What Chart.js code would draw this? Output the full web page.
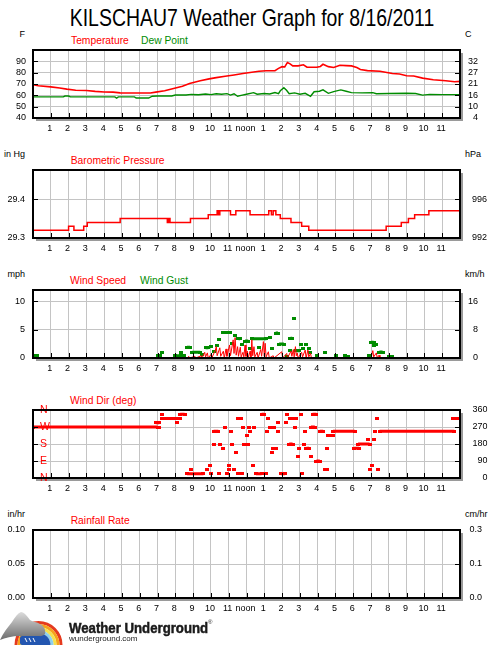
<!DOCTYPE html>
<html><head><meta charset="utf-8">
<script src="https://cdn.jsdelivr.net/npm/chart.js@4.4.0/dist/chart.umd.min.js"></script>
<style>
html,body{margin:0;padding:0;background:#fff;}
#page{position:relative;width:500px;height:645px;overflow:hidden;background:#fff;font-family:'Liberation Sans',Arial,sans-serif;}
.t{position:absolute;white-space:nowrap;line-height:1;}
.unit{font-size:9px;color:#000;}
.ul{right:475px;text-align:right;}
.ur{left:465px;}
.lg{font-size:10.3px;}
.red{color:#ff0000;}
.grn{color:#008c00;}
canvas{position:absolute;left:0;}
</style></head><body><div id="page">
<div class="t" style="left:2px;top:6.4px;width:500px;text-align:center;font-size:24px;transform:scaleX(0.81);transform-origin:50% 50%;color:#000;">KILSCHAU7 Weather Graph for 8/16/2011</div>

<div class="t unit ul" style="top:30.4px">F</div>
<div class="t unit ur" style="top:30.4px">C</div>
<div class="t lg red" style="left:71px;top:36.3px">Temperature</div>
<div class="t lg grn" style="left:141px;top:36.3px">Dew Point</div>

<div class="t unit ul" style="top:150.4px">in Hg</div>
<div class="t unit ur" style="top:150.4px">hPa</div>
<div class="t lg red" style="left:70.7px;top:156.3px">Barometric Pressure</div>

<div class="t unit ul" style="top:270.4px">mph</div>
<div class="t unit ur" style="top:270.4px">km/h</div>
<div class="t lg red" style="left:70px;top:276.3px">Wind Speed</div>
<div class="t lg grn" style="left:140px;top:276.3px">Wind Gust</div>

<div class="t lg red" style="left:70px;top:396.3px">Wind Dir (deg)</div>

<div class="t unit ul" style="top:510.4px">in/hr</div>
<div class="t unit ur" style="top:510.4px">cm/hr</div>
<div class="t lg red" style="left:70.7px;top:516.3px">Rainfall Rate</div>

<canvas id="c1" width="500" height="104" style="top:36px"></canvas>
<canvas id="c2" width="500" height="104" style="top:156px"></canvas>
<canvas id="c3" width="500" height="104" style="top:276px"></canvas>
<canvas id="c4" width="500" height="104" style="top:396px"></canvas>
<canvas id="c5" width="500" height="104" style="top:516px"></canvas>

<svg style="position:absolute;left:0;top:605px" width="66" height="40" viewBox="0 0 66 40">
<defs><linearGradient id="cg" x1="0" y1="0" x2="0" y2="1"><stop offset="0" stop-color="#dcdcdc"/><stop offset="1" stop-color="#6c6c6c"/></linearGradient></defs>
<circle cx="38.5" cy="40" r="22.5" fill="none" stroke="#e53a1e" stroke-width="3"/>
<circle cx="38.5" cy="40" r="19.5" fill="none" stroke="#f6a21c" stroke-width="3"/>
<circle cx="38.5" cy="40" r="16.5" fill="none" stroke="#f5e04c" stroke-width="3"/>
<circle cx="38.5" cy="40" r="13.5" fill="none" stroke="#8fd0ec" stroke-width="3"/>
<circle cx="38.5" cy="40" r="12" fill="#2356b0"/>
<path d="M0,35 C3,28 8,22 12,17 C15,12 18,8 21,7 C24,7 27,11 30,15 C33,17 37,17 40,19 C44,21 46,25 45,29 C42,32 36,32 30,31 L20,31 C12,31 5,33 0,35 Z" fill="url(#cg)"/>
<rect x="20" y="31" width="21" height="9" rx="2" fill="#2356b0"/>
<path d="M25,33 l2,4 M29,33 l2,4 M33,33 l2,4" stroke="#fff" stroke-width="1"/>
</svg>
<div class="t" style="left:69px;top:620px;font-size:15px;font-weight:bold;color:#1a1a1a;-webkit-text-stroke:0.5px #1a1a1a;transform:scaleX(0.88);transform-origin:0 50%;">Weather Underground</div>
<div class="t" style="left:208px;top:619px;font-size:6px;color:#1a1a1a;">®</div>
<div class="t" style="left:69px;top:635.2px;font-size:8px;color:#222;">wunderground.com</div>
</div>
<script>
// ---------- data ----------
const xTickHours = [1,2,3,4,5,6,7,8,9,10,11,12,13,14,15,16,17,18,19,20,21,22,23];
const xTickLabels = ['1','2','3','4','5','6','7','8','9','10','11','noon','1','2','3','4','5','6','7','8','9','10','11'];

const tempTicksF = [40,50,60,70,80,90];
const tempLabelsF = ['40','50','60','70','80','90'];
const tempLabelsC = ['4','10','16','21','27','32'];
const tempHours = [0,0.3,1.0,1.5,1.9,2.4,3.0,3.5,4.0,4.5,4.9,5.7,6.6,6.9,7.4,7.9,8.4,8.8,9.4,9.9,10.3,10.8,11.3,11.8,12.2,12.7,13.1,13.6,13.8,14.0,14.15,14.3,14.45,14.6,14.9,15.2,15.4,15.95,16.15,16.3,16.6,16.9,17.25,17.6,17.9,18.2,18.4,18.8,19.5,20.2,20.6,21.0,21.4,21.9,22.5,23.2,23.7,24.0];
const tempF = [69.5,68.5,67.5,66.5,65.5,64.5,64.2,63.5,63.0,62.8,62.2,62.0,62.0,62.8,64.0,66.0,68.0,70.5,72.8,74.5,75.6,76.8,78.0,79.2,80.2,81.2,81.7,81.8,83.8,85.3,85.0,89.0,87.8,86.0,86.0,87.0,84.8,84.8,85.5,87.4,85.3,84.6,86.5,86.2,86.0,84.5,82.8,81.8,81.2,79.2,78.8,77.3,77.0,75.2,73.8,72.8,72.0,72.3];
const dewHours = [0,1.7,1.8,2.0,2.1,4.6,4.7,4.8,5.7,5.8,6.5,6.7,7.0,7.8,8.0,8.6,8.9,9.3,9.7,10.0,10.3,10.6,10.9,11.1,11.3,11.5,11.7,12.0,12.4,12.6,13.0,13.3,13.6,13.8,13.9,14.1,14.25,14.4,14.7,15.0,15.3,15.6,15.8,16.1,16.3,16.6,16.9,17.3,17.6,17.9,18.5,19.1,19.3,20.0,21.0,21.5,21.9,22.3,23.0,24.0];
const dewF = [58.6,58.6,59.4,59.4,58.6,58.6,57.5,58.6,58.6,57.6,57.6,59.2,59.4,59.4,60.3,60.3,60.8,60.5,61.2,60.6,61.4,61.0,61.5,60.2,61.4,59.2,60.0,61.0,62.4,61.0,61.6,61.2,62.5,61.5,64.0,66.8,64.5,61.5,62.2,61.0,61.8,59.2,63.2,63.6,64.8,61.8,63.3,64.8,63.6,62.4,62.2,62.4,61.4,61.6,61.8,61.6,60.2,60.8,60.6,60.6];

const pressTicks = [29.3,29.4];
const pressLabelsIn = ['29.3','29.4'];
const pressLabelsHpa = ['992','996'];
const pressHours = [0,2.0,2.3,2.85,3.05,4.9,7.55,7.62,7.7,8.85,9.85,10.35,10.42,10.5,11.1,11.4,12.2,13.25,13.4,13.5,13.65,13.9,14.5,15.1,15.5,19.85,20.7,21.1,21.45,22.25,24];
const pressInHg = [29.32,29.33,29.32,29.33,29.34,29.35,29.34,29.35,29.34,29.35,29.36,29.37,29.36,29.37,29.36,29.37,29.36,29.37,29.36,29.37,29.36,29.35,29.34,29.33,29.32,29.33,29.34,29.35,29.36,29.37,29.37];

const windTicks = [0,5,10];
const windLabelsMph = ['0','5','10'];
const windLabelsKmh = ['0','8','16'];
const windHours = [0,8.7,8.75,8.8,9.1,9.15,9.45,9.5,9.65,9.7,9.8,9.85,10.0,10.05,10.25,10.3,10.35,10.5,10.55,10.7,10.75,10.85,10.9,11.05,11.1,11.25,11.3,11.36,11.42,11.5,11.55,11.65,11.7,11.8,11.85,11.92,11.97,12.05,12.1,12.2,12.25,12.3,12.35,12.42,12.47,12.6,12.65,12.8,12.85,12.95,13.0,13.05,13.1,13.23,13.28,13.5,13.55,13.98,14.03,14.26,14.3,14.5,14.55,14.63,14.68,14.75,14.8,14.85,14.9,15.1,15.15,15.3,15.35,15.45,15.5,15.6,15.65,19.0,19.1,19.15,19.3,19.35,19.45,19.5,24];
const windMph = [0,0,0.3,0,0.3,0,0.4,0,1.0,0.2,0.9,0,0.6,0,1.4,2.0,0.4,1.8,0.3,1.2,0,1.6,0.3,2.3,0.4,3.2,0.8,3.6,0.5,2.0,0.3,1.9,0.2,1.0,0.2,2.3,0.3,1.2,0,1.2,0.2,3.2,0.4,2.0,0.2,1.0,0,1.5,0.3,2.9,0.3,2.6,0.2,1.1,0,0.4,0,1.1,0,0.8,0,1.2,0.3,1.5,0.2,2.0,0.4,0.9,0,1.0,0.2,1.4,0,1.4,0.2,0.8,0,0,1.3,0.2,0.9,0,0.5,0,0];
const gustRunStart = [0.0,7.0,8.0,8.65,8.95,9.7,10.7,11.55,11.92,12.29,13.64,13.83,14.47,14.8,19.0,19.47,20.0];
const gustRunEnd = [0.2,7.15,8.3,8.83,9.4,9.86,11.1,11.64,12.1,13.12,13.77,14.1,14.57,14.95,19.15,19.65,20.2];
const gustRunMph = [0.4,0.4,0.4,1.9,1.0,1.8,4.5,3.4,3.0,3.4,4.4,2.45,3.5,1.3,2.8,1.05,0.25];
const gustHours = [7.25,8.33,8.46,9.5,10.0,10.15,10.33,10.48,11.17,11.36,11.73,12.2,12.71,13.3,13.45,14.28,14.45,14.66,15.08,15.2,15.33,15.5,15.55,15.97,16.43,17.05,17.55,17.7,18.86,19.17,19.3];
const gustMph = [0.9,0.9,0.4,0.7,2.0,1.15,2.15,3.3,2.6,3.9,2.45,1.75,1.9,3.7,1.75,0.25,1.3,6.9,2.45,1.75,2.45,1.75,1.05,0.4,0.9,0.4,0.4,0.25,0.4,2.15,2.45];

const dirTicks = [0,90,180,270,360];
const dirLabelsCompass = ['N','E','S','W','N'];
const dirLabelsDeg = ['0','90','180','270','360'];
const dirRunStart = [0.0,6.9,7.25,8.27,8.65,10.15,11.5,12.53,12.85,13.93,14.4,14.44,15.37,15.62,15.71,15.93,16.12,16.4,16.59,16.86,18.04,18.27,19.48,23.6];
const dirRunEnd = [7.0,7.1,8.27,8.52,9.58,10.42,11.67,12.85,13.0,14.16,14.59,14.81,15.52,15.84,15.93,16.12,16.31,16.53,16.86,18.08,18.32,18.92,23.68,24.0];
const dirRunDeg = [270,292.5,315,337.5,22.5,247.5,315,22.5,337.5,22.5,180,315,157.5,270,337.5,90,247.5,45,225,247.5,157.5,180,247.5,315];
const dirHours = [7.1,7.25,8.09,8.9,9.8,9.96,10.0,10.15,10.48,10.5,10.7,10.8,10.9,11.0,11.04,11.13,11.2,11.32,11.4,11.5,11.73,11.82,11.88,12.03,12.1,12.16,12.2,12.38,12.42,13.07,13.13,13.22,13.32,13.41,13.47,13.56,13.65,13.75,13.78,14.21,14.29,14.72,14.9,14.96,15.05,15.13,15.22,15.28,15.6,16.55,18.83,18.96,19.05,19.14,19.2,19.33,19.39];
const dirDeg = [270,337.5,292.5,45,45,67.5,22.5,180,22.5,180,157.5,270,22.5,45,67.5,247.5,180,45,135,22.5,22.5,270,180,225,180,270,247.5,67.5,270,22.5,247.5,315,270,135,157.5,270,157.5,247.5,292.5,292.5,337.5,270,112.5,157.5,337.5,22.5,180,247.5,112.5,157.5,202.5,45,67.5,202.5,247.5,315,45];

const rainTicks = [0,0.05,0.1];
const rainLabelsIn = ['0.00','0.05','0.10'];
const rainLabelsCm = ['0.0','0.1','0.3'];
const rainHours = [0,24];
const rainInHr = [0,0];

// ---------- helpers ----------
const FONT = "'Liberation Sans', Arial, sans-serif";
const tickFont = {family: FONT, size: 9};
const GRID = '#c4c4c4';
const RED = '#ff0000', GREEN = '#008c00';

function rectMark(color) {
  const c = document.createElement('canvas'); c.width = 4; c.height = 3;
  const g = c.getContext('2d'); g.fillStyle = color; g.fillRect(0, 0, 4, 3); return c;
}
const redMark = rectMark(RED), greenMark = rectMark(GREEN);
function xy(xs, ys) { return xs.map((x, i) => ({x: x, y: ys[i]})); }
function runs(s, e, v) {
  const out = [];
  s.forEach((st, i) => { out.push({x: st, y: v[i]}, {x: e[i], y: v[i]}, {x: e[i], y: null}); });
  return out;
}

const framePlugin = {
  id: 'frame',
  beforeDraw(chart) {
    const {ctx, chartArea: a} = chart;
    ctx.save();
    ctx.fillStyle = '#9a9a9a';
    ctx.fillRect(a.left + 3, a.top + 3, a.right - a.left, a.bottom - a.top);
    ctx.fillStyle = '#fff';
    ctx.fillRect(a.left, a.top, a.right - a.left, a.bottom - a.top);
    ctx.restore();
  },
  afterDraw(chart) {
    const {ctx, chartArea: a, scales} = chart;
    ctx.save();
    ctx.strokeStyle = '#000'; ctx.lineWidth = 1;
    ctx.beginPath();
    scales.y.ticks.forEach(t => {
      const y = Math.round(scales.y.getPixelForValue(t.value)) + 0.5;
      ctx.moveTo(a.left, y); ctx.lineTo(a.left + 5, y);
      ctx.moveTo(a.right - 5, y); ctx.lineTo(a.right, y);
    });
    scales.x.ticks.forEach(t => {
      const x = Math.round(scales.x.getPixelForValue(t.value)) + 0.5;
      ctx.moveTo(x, a.bottom); ctx.lineTo(x, a.bottom - 5);
    });
    ctx.stroke();
    ctx.lineWidth = 2;
    ctx.strokeRect(a.left, a.top, a.right - a.left, a.bottom - a.top);
    ctx.restore();
  }
};

function panel(id, spec, datasets) {
  return new Chart(document.getElementById(id), {
    type: 'line',
    data: {datasets: datasets},
    options: {
      responsive: false, animation: false, events: [], devicePixelRatio: 1,
      layout: {padding: {top: 14, right: spec.padRight, bottom: 0, left: 0}},
      plugins: {legend: {display: false}, tooltip: {enabled: false}},
      elements: {line: {tension: 0}},
      scales: {
        x: {
          type: 'linear', min: 0, max: 24,
          afterBuildTicks: s => { s.ticks = xTickHours.map(v => ({value: v})); },
          afterFit: s => { s.height = 22; },
          ticks: {autoSkip: false, maxRotation: 0, padding: 5, labelOffset: -1, font: tickFont, color: '#000',
                  callback: (v, i) => xTickLabels[i]},
          grid: {color: GRID, lineWidth: 1, drawTicks: false},
          border: {display: false}
        },
        y: {
          position: 'left', min: spec.min, max: spec.max,
          afterBuildTicks: s => { s.ticks = spec.ticks.map(v => ({value: v})); },
          afterFit: s => { s.width = 33; },
          ticks: {autoSkip: false, padding: spec.leftPad, mirror: !!spec.mirror, font: spec.leftFont || tickFont,
                  color: spec.leftColor || '#000', callback: (v, i) => spec.leftLabels[i]},
          grid: {color: GRID, lineWidth: 1, drawTicks: false},
          border: {display: false}
        },
        y2: {
          position: 'right', min: spec.min, max: spec.max,
          afterBuildTicks: s => { s.ticks = spec.ticks.map(v => ({value: v})); },
          afterFit: s => { s.width = 40 - spec.padRight; },
          ticks: {autoSkip: false, crossAlign: 'far', padding: 0, font: tickFont, color: '#000',
                  callback: (v, i) => spec.rightLabels[i]},
          grid: {display: false, drawTicks: false},
          border: {display: false}
        }
      }
    },
    plugins: [framePlugin]
  });
}

// ---------- panels ----------
panel('c1', {min: 40, max: 100, ticks: tempTicksF, leftLabels: tempLabelsF, rightLabels: tempLabelsC, padRight: 22, leftPad: 7}, [
  {type: 'line', data: xy(tempHours, tempF), borderColor: RED, borderWidth: 1.6, pointRadius: 0},
  {type: 'line', data: xy(dewHours, dewF), borderColor: GREEN, borderWidth: 1.4, pointRadius: 0}
]);

panel('c2', {min: 29.3, max: 29.475, ticks: pressTicks, leftLabels: pressLabelsIn, rightLabels: pressLabelsHpa, padRight: 13, leftPad: 8}, [
  {type: 'line', data: xy(pressHours, pressInHg), borderColor: RED, borderWidth: 1.5, pointRadius: 0, stepped: 'before'}
]);

panel('c3', {min: 0, max: 12, ticks: windTicks, leftLabels: windLabelsMph, rightLabels: windLabelsKmh, padRight: 22, leftPad: 8}, [
  {type: 'line', data: xy(windHours, windMph), borderColor: RED, borderWidth: 1, pointRadius: 0},
  {type: 'line', data: runs(gustRunStart, gustRunEnd, gustRunMph), borderColor: GREEN, borderWidth: 3,
   pointStyle: greenMark, pointRadius: 2, spanGaps: false},
  {type: 'scatter', data: xy(gustHours, gustMph), showLine: false, pointStyle: greenMark, pointRadius: 2,
   backgroundColor: GREEN, borderColor: GREEN}
]);

panel('c4', {min: 0, max: 360, ticks: dirTicks, leftLabels: dirLabelsCompass, rightLabels: dirLabelsDeg, padRight: 12.5,
             leftPad: 7, mirror: true, leftColor: RED, leftFont: {family: FONT, size: 10.5}}, [
  {type: 'line', data: runs(dirRunStart, dirRunEnd, dirRunDeg), borderColor: RED, borderWidth: 3,
   pointStyle: redMark, pointRadius: 2, spanGaps: false},
  {type: 'scatter', data: xy(dirHours, dirDeg), showLine: false, pointStyle: redMark, pointRadius: 2,
   backgroundColor: RED, borderColor: RED}
]);

panel('c5', {min: 0, max: 0.1, ticks: rainTicks, leftLabels: rainLabelsIn, rightLabels: rainLabelsCm, padRight: 18, leftPad: 8}, [
  {type: 'line', data: xy(rainHours, rainInHr), borderColor: RED, borderWidth: 1, pointRadius: 0}
]);
</script>
</body></html>
